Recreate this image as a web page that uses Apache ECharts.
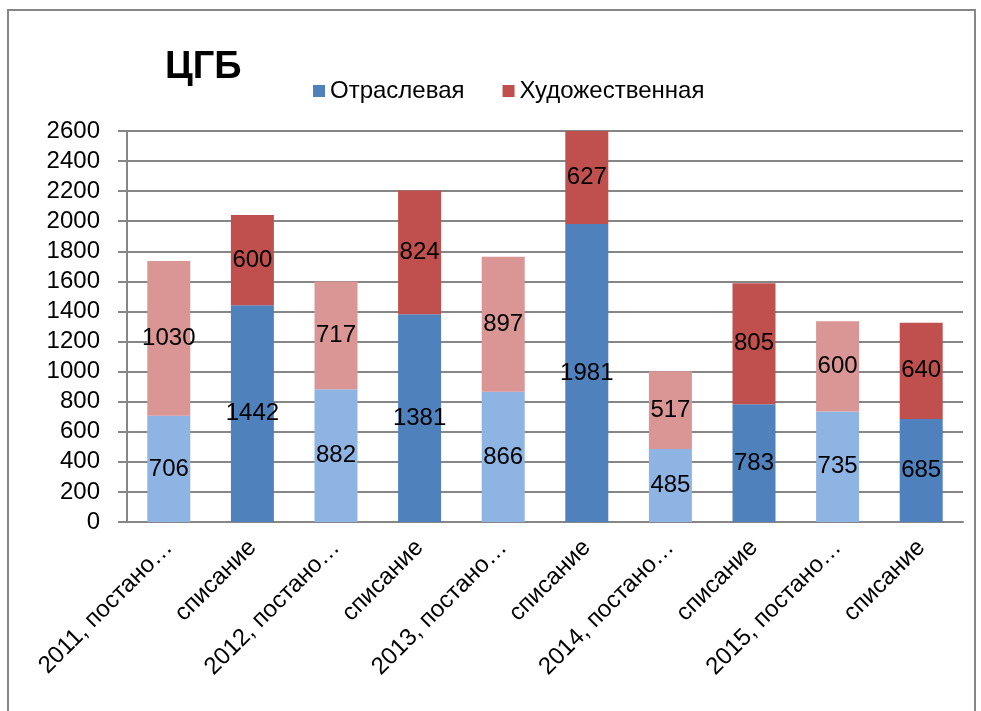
<!DOCTYPE html>
<html>
<head>
<meta charset="utf-8">
<script src="https://cdn.jsdelivr.net/npm/echarts@6/dist/echarts.min.js"></script>
<style>html,body{margin:0;padding:0;background:#fff;}#chart{width:981px;height:711px;}</style>
</head>
<body>
<div id="chart"></div>
<script>
const titleText = 'ЦГБ';
const categories = ['2011, постано…','списание','2012, постано…','списание','2013, постано…','списание','2014, постано…','списание','2015, постано…','списание'];
const seriesNames = ['Отраслевая','Художественная'];
const otraslevaya = [706,1442,882,1381,866,1981,485,783,735,685];
const hudozhestvennaya = [1030,600,717,824,897,627,517,805,600,640];

const darkColors = ['#4F81BD','#C0504D'];
const lightColors = ['#8EB4E3','#D99694'];
const FONT = 'Liberation Sans';

function items(values, s){
  return values.map((v,i)=>({value:v,itemStyle:{color:(i%2===0)?lightColors[s]:darkColors[s]}}));
}

const chart = echarts.init(document.getElementById('chart'));
chart.setOption({
  animation:false,
  backgroundColor:'#fff',
  textStyle:{fontFamily:FONT},
  title:{text:titleText,left:160,top:44,textStyle:{fontFamily:FONT,fontSize:38,fontWeight:'bold',color:'#000'}},
  legend:{left:308,top:74,itemWidth:12,itemHeight:12,itemGap:38,icon:'rect',
    textStyle:{fontFamily:FONT,fontSize:24,color:'#000'},data:seriesNames},
  grid:{left:127,right:18,top:131,bottom:189,containLabel:false},
  xAxis:{type:'category',data:categories,
    axisLine:{lineStyle:{color:'#868686',width:2}},
    axisTick:{show:false},
    axisLabel:{rotate:45,interval:0,margin:22,fontFamily:FONT,fontSize:24,color:'#000'}},
  yAxis:{type:'value',min:0,max:2600,interval:200,
    axisLine:{show:true,lineStyle:{color:'#868686',width:2}},
    axisTick:{show:true,length:9,lineStyle:{color:'#868686',width:2}},
    splitLine:{lineStyle:{color:'#868686',width:2}},
    axisLabel:{margin:27,fontFamily:FONT,fontSize:24,color:'#000',formatter:v=>String(v)}},
  series:[
    {name:seriesNames[0],type:'bar',stack:'a',barWidth:43,color:darkColors[0],
     data:items(otraslevaya,0),
     label:{show:true,position:'inside',fontFamily:FONT,fontSize:24,color:'#000'}},
    {name:seriesNames[1],type:'bar',stack:'a',barWidth:43,color:darkColors[1],
     data:items(hudozhestvennaya,1),
     label:{show:true,position:'inside',fontFamily:FONT,fontSize:24,color:'#000'}}
  ],
  graphic:[{type:'rect',shape:{x:8,y:10,width:967,height:720},
    style:{fill:'none',stroke:'#868686',lineWidth:2},silent:true,z:-1}]
});
</script>
</body>
</html>
